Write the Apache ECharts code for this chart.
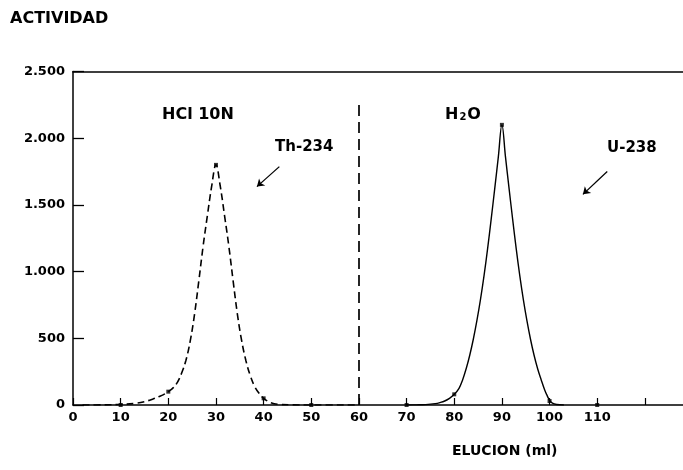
<!DOCTYPE html>
<html>
<head>
<meta charset="utf-8">
<script src="https://cdn.jsdelivr.net/npm/echarts@6/dist/echarts.min.js"></script>
<style>html,body{margin:0;padding:0;background:#fff}#c{width:683px;height:470px}</style>
</head>
<body>
<div id="c"></div>
<script>
// ---- data ----
const xTickValues = [0,10,20,30,40,50,60,70,80,90,100,110,120];
const xLabelValues = [0,10,20,30,40,50,60,70,80,90,100,110];
const yTickLabels = ['0','500','1.000','1.500','2.000','2.500'];

// Th-234 (HCl 10N) curve, dashed
const thX = [2,6,10,13,15,16.8,18,19,20,21,21.9,22.8,23.7,24.6,25.5,26.4,27.3,28.2,29.1,30,30.9,31.8,32.7,33.6,34.5,35.4,36.3,37.2,38.1,39,40,41.5,43,46,50,60];
const thY = [0,1,4,12,25,45,62,78,100,128,170,240,335,480,680,930,1190,1420,1640,1800,1640,1420,1190,930,680,480,330,220,140,90,50,18,5,1,0,0];
// U-238 (H2O) curve, solid
const uX = [70,72,74,76,77,78,79,80,81,81.75,82.5,83.25,84,84.75,85.5,86.25,87,87.75,88.5,89.25,90,90.75,91.5,92.25,93,93.75,94.5,95.25,96,96.75,97.5,98.25,99,99.5,100,100.6,101.5,103];
const uY = [0,1,3,10,18,30,50,80,125,188,272,373,493,632,790,970,1172,1393,1624,1860,2100,1860,1624,1393,1172,970,790,632,493,373,272,188,110,70,35,14,4,0];
// measured fractions (markers)
const ptsX = [10,20,30,40,50,70,80,90,100,110];
const ptsY = [0,100,1800,50,0,0,80,2100,30,0];
// separator & arrows (data coordinates)
const separatorX = 60, separatorTop = 2250;
const thArrow = [[43.3,1787],[38.6,1637]];
const uArrow = [[112.1,1750],[107.0,1579]];

const zip = (a,b) => a.map((v,i) => [v,b[i]]);
const FONT = '"DejaVu Sans", sans-serif';

const chart = echarts.init(document.getElementById('c'), null, {renderer:'canvas'});
chart.setOption({
  animation: false,
  backgroundColor: '#fff',
  grid: {left: 73, right: 0, top: 71.5, bottom: 65, containLabel: false},
  xAxis: [{
    type: 'value', min: 0, max: 128, interval: 10,
    axisLine: {show: true, onZero: false, lineStyle: {color: '#000', width: 1.5}},
    axisTick: {show: true, inside: true, length: 7, customValues: xTickValues, lineStyle: {color: '#000', width: 1.2}},
    axisLabel: {show: true, customValues: xLabelValues, color: '#000', fontFamily: FONT, fontWeight: 'bold', fontSize: 13, margin: 6},
    splitLine: {show: false}
  }, {
    type: 'value', min: 0, max: 128, position: 'top',
    axisLine: {show: true, onZero: false, lineStyle: {color: '#000', width: 1.6}},
    axisTick: {show: false}, axisLabel: {show: false}, splitLine: {show: false}
  }],
  yAxis: {
    type: 'value', min: 0, max: 2500, interval: 500,
    axisLine: {show: true, onZero: false, lineStyle: {color: '#000', width: 1.5}},
    axisTick: {show: true, inside: true, length: 11, lineStyle: {color: '#000', width: 1.3}},
    axisLabel: {color: '#000', fontFamily: FONT, fontWeight: 'bold', fontSize: 13, margin: 8,
      formatter: v => yTickLabels[Math.round(v/500)]},
    splitLine: {show: false}
  },
  series: [{
    type: 'line', name: 'Th-234', data: zip(thX, thY), symbol: 'none', smooth: 0.4,
    lineStyle: {color: '#000', width: 1.6, type: [7,4]},
    markLine: {
      silent: true, symbol: ['none','none'], label: {show: false},
      data: [[{coord: [separatorX, 0]}, {coord: [separatorX, separatorTop]}]],
      lineStyle: {color: '#000', width: 1.7, type: [11,6]}
    }
  }, {
    type: 'line', name: 'U-238', data: zip(uX, uY), symbol: 'none', smooth: 0.4,
    lineStyle: {color: '#000', width: 1.4, type: 'solid'},
    markLine: {
      silent: true, symbol: ['none','arrow'], symbolSize: 7, label: {show: false},
      data: [
        [{coord: thArrow[0]}, {coord: thArrow[1]}],
        [{coord: uArrow[0]}, {coord: uArrow[1]}]
      ],
      lineStyle: {color: '#000', width: 1.3, type: 'solid'}
    }
  }, {
    type: 'scatter', data: zip(ptsX, ptsY), symbol: 'rect', symbolSize: 4,
    itemStyle: {color: '#000'}
  }],
  graphic: [
    {type: 'text', left: 10, top: 11, style: {text: 'ACTIVIDAD', font: 'bold 16px ' + FONT, fill: '#000'}},
    {type: 'text', left: 162, top: 107, style: {text: 'HCl 10N', font: 'bold 16px ' + FONT, fill: '#000'}},
    {type: 'text', left: 275, top: 140, style: {text: 'Th-234', font: 'bold 15px ' + FONT, fill: '#000'}},
    {type: 'text', left: 445, top: 107, style: {text: '{n|H}{s|2}{n|O}', fill: '#000',
      rich: {n: {fontFamily: FONT, fontWeight: 'bold', fontSize: 16, fill: '#000'},
             s: {fontFamily: FONT, fontWeight: 'bold', fontSize: 10, fill: '#000', padding: [5,1,0,1]}}}},
    {type: 'text', left: 607, top: 141, style: {text: 'U-238', font: 'bold 15px ' + FONT, fill: '#000'}},
    {type: 'text', left: 452, top: 444, style: {text: 'ELUCION (ml)', font: 'bold 14px ' + FONT, fill: '#000'}}
  ]
});
</script>
</body>
</html>
